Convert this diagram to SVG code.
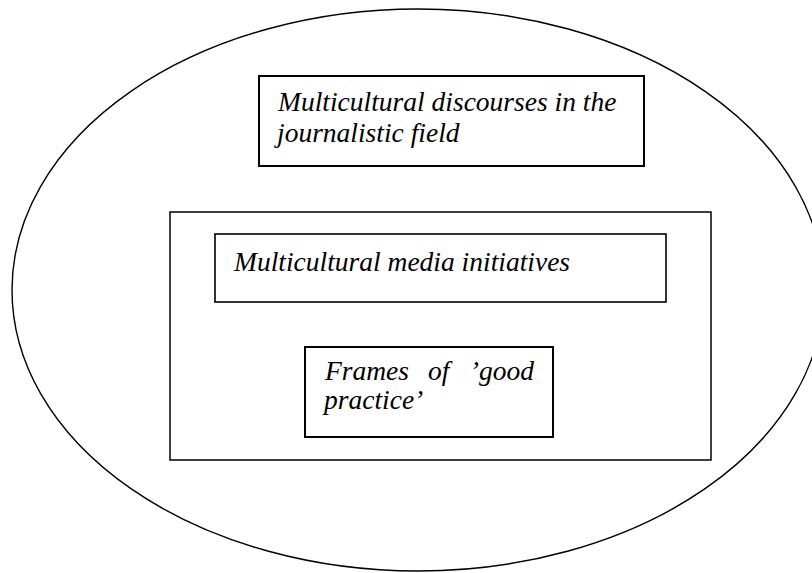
<svg xmlns="http://www.w3.org/2000/svg" width="812" height="573" viewBox="0 0 812 573">
<style>
.shape{fill:none;stroke:#000;}
.lbl{font-family:'Liberation Serif','Times New Roman',Times,serif;font-style:italic;font-size:27.5px;fill:#000;}
</style>
<rect x="0" y="0" width="812" height="573" fill="#fff"/>
<g id="field">
<ellipse class="shape" cx="418" cy="290" rx="406" ry="281" stroke-width="1.4"/>
</g>
<g id="discourses">
<rect class="shape" x="259" y="76" width="385" height="90" stroke-width="2"/>
<text class="lbl" x="278" y="111" font-family="Liberation Serif, serif">Multicultural discourses in the</text>
<text class="lbl" x="277" y="142" font-family="Liberation Serif, serif">journalistic field</text>
</g>
<g id="initiatives-area">
<rect class="shape" x="170" y="212" width="541" height="248" stroke-width="1.5"/>
</g>
<g id="initiatives">
<rect class="shape" x="215" y="234" width="451" height="68" stroke-width="1.6"/>
<text class="lbl" x="234" y="271" font-family="Liberation Serif, serif">Multicultural media initiatives</text>
</g>
<g id="frames">
<rect class="shape" x="305" y="347" width="248" height="90" stroke-width="2"/>
<text class="lbl" x="325" y="380" font-family="Liberation Serif, serif">Frames</text>
<text class="lbl" x="428" y="380" font-family="Liberation Serif, serif">of</text>
<text class="lbl" x="534" y="380" text-anchor="end" font-family="Liberation Serif, serif">’good</text>
<text class="lbl" x="324" y="409" font-family="Liberation Serif, serif">practice’</text>
</g>
<g id="connectors"></g>
</svg>
